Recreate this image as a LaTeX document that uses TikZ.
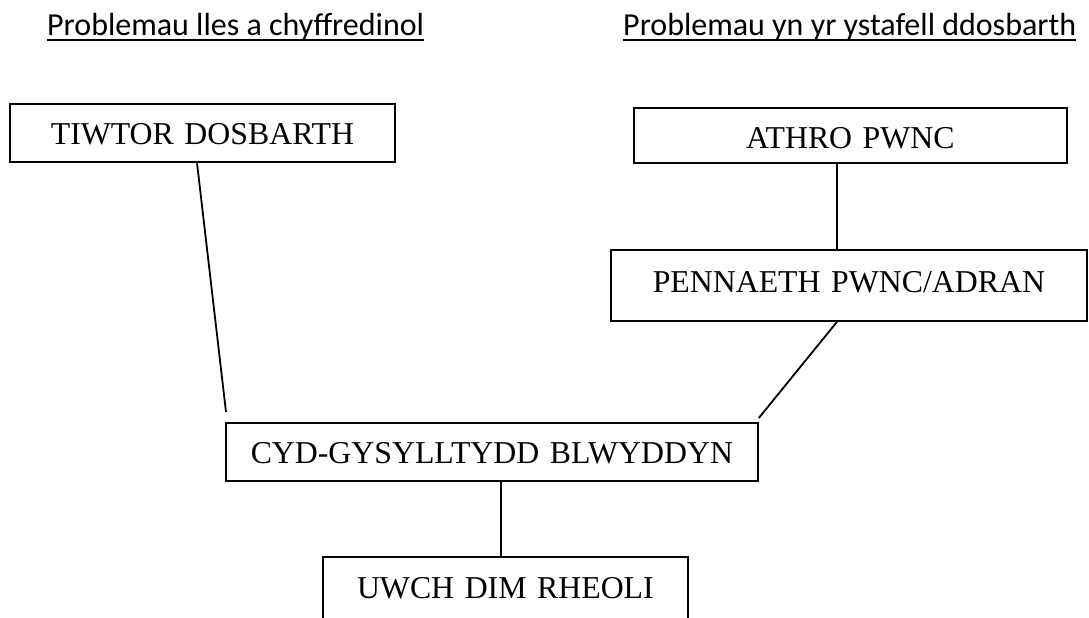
\documentclass[tikz,border=0pt]{standalone}
\usepackage{fontspec}
\setmainfont{Liberation Serif}
\newfontfamily\headfont{Carlito}
\usetikzlibrary{calc}
\begin{document}
\begin{tikzpicture}[x=1pt,y=-1pt,
  box/.style={draw, line width=1.8pt, rectangle, inner sep=0pt, anchor=north west, align=center,
    font=\fontsize{31.8}{38}\selectfont, text height=41pt},
  conn/.style={line width=1.8pt},
  ul/.style={line width=2.6pt},
  head/.style={anchor=base west, inner sep=0pt, font=\headfont\fontsize{32}{38}\selectfont}]
\path[use as bounding box, clip] (0,0) rectangle (1089,618);
\fill[white] (0,0) rectangle (1089,618);

\node[head] (h1) at (47,36) {Problemau lles a chyffredinol};
\node[head] (h2) at (623,36) {Problemau yn yr ystafell ddosbarth};
\draw[ul] ($(h1.base west)+(0,4)$) -- ($(h1.base east)+(0,4)$);
\draw[ul] ($(h2.base west)+(0,4)$) -- ($(h2.base east)+(0,4)$);

\node[box, text width=385pt, text depth=17pt] (tiwtor) at (9,103) {TIWTOR DOSBARTH};
\node[box, text width=433pt, text depth=14pt] (athro) at (633,107) {ATHRO PWNC};
\node[box, text width=476pt, text height=43pt, text depth=28pt] (pennaeth) at (610,249) {PENNAETH PWNC/ADRAN};
\node[box, text width=532pt, text depth=17pt] (cyd) at (225,422) {CYD-GYSYLLTYDD BLWYDDYN};
\node[box, text width=365pt, text height=42pt, text depth=60pt] (uwch) at (322,556) {UWCH DIM RHEOLI\hspace*{14pt}};

\draw[conn] ($(tiwtor.south west)+(188,0)$) -- ($(cyd.north west)+(1,-10)$);
\draw[conn] ($(athro.south west)+(204,0)$) -- ($(pennaeth.north west)+(227,0)$);
\draw[conn] ($(pennaeth.south west)+(227,0)$) -- ($(cyd.north east)+(0,-4)$);
\draw[conn] ($(cyd.south west)+(276,0)$) -- ($(uwch.north west)+(179,0)$);
\end{tikzpicture}
\end{document}
